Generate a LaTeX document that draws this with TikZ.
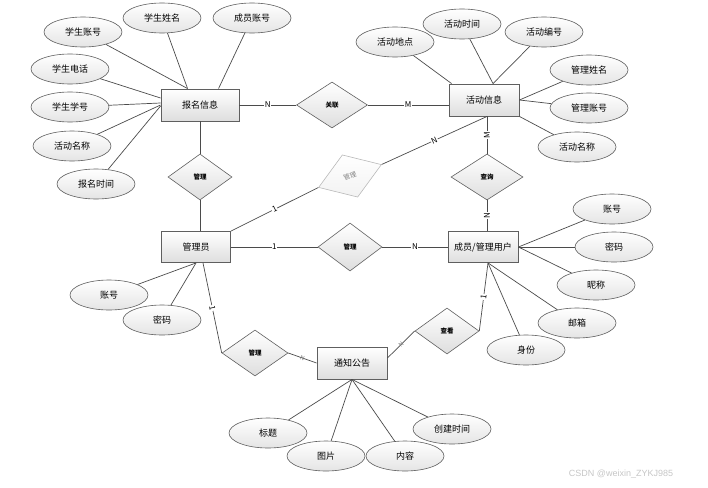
\documentclass[tikz,border=0pt]{standalone}
\usepackage{fontspec}
\newfontfamily\cjk{Noto Sans CJK SC}
\newfontfamily\wmfont{Liberation Sans}
\usetikzlibrary{shapes.geometric,calc}
\definecolor{linegray}{RGB}{75,75,75}
\definecolor{boxgray}{RGB}{95,95,95}
\definecolor{fillgray}{RGB}{222,222,222}
\tikzset{
    semithick,
    every edge/.style={draw=linegray, line width=0.7pt},
    entity/.style ={rectangle, draw=boxgray, line width=0.9pt, top color=white, bottom color=fillgray,
        minimum width=70pt, minimum height=32pt, inner sep=0pt, font=\cjk\fontsize{9}{10}\selectfont},
    attr/.style ={ellipse, draw=boxgray, line width=0.6pt, top color=white, bottom color=fillgray!80,
        minimum width=78pt, minimum height=30pt, inner sep=0pt, font=\cjk\fontsize{9}{10}\selectfont},
    rel/.style ={diamond, draw=boxgray, line width=0.6pt, top color=white, bottom color=fillgray,
        minimum width=64pt, minimum height=46pt, inner sep=0pt, font=\cjk\bfseries\fontsize{6.5}{7}\selectfont},
    el/.style = {fill=white, inner sep=0.6pt, font=\cjk\fontsize{8}{8}\selectfont},
    tiny/.style = {inner sep=0.5pt, text=gray, font=\cjk\fontsize{6}{6}\selectfont}
}
\begin{document}
\begin{tikzpicture}[x=1pt, y=-1pt]
    \useasboundingbox (0,0) rectangle (708,487);

    % entities
    \node[entity, minimum width=78pt] (bm) at (200,105) {报名信息};
    \node[entity] (hd) at (484,100) {活动信息};
    \node[entity, minimum width=69pt, minimum height=31pt] (gly) at (196,247) {管理员};
    \node[entity, minimum height=31pt] (cy) at (483,247) {成员/管理用户};
    \node[entity] (tz) at (352,363) {通知公告};

    % relations
    \node[rel, minimum width=71pt] (gl) at (332,105) {关联};
    \node[rel] (gl1) at (200,177) {管理};
    \node[rel, minimum width=72pt] (cx) at (487,177) {查询};
    \node[rel, minimum height=48pt] (gl2) at (350,247) {管理};
    \node[rel, minimum width=66pt] (gl3) at (255,353) {管理};
    \node[rel] (ck) at (447,331) {查看};
    \node[rel, rotate=20, draw=gray!55, top color=white, bottom color=gray!10, text=gray,
        font=\cjk\fontsize{6.5}{7}\selectfont, minimum width=67pt, minimum height=45pt] (gd) at (350,176) {管理};

    % attributes
    \node[attr] (a1) at (83,32) {学生账号};
    \node[attr] (a2) at (162,18) {学生姓名};
    \node[attr] (a3) at (252,18) {成员账号};
    \node[attr] (a4) at (70,69) {学生电话};
    \node[attr] (a5) at (70,107) {学生学号};
    \node[attr] (a6) at (72,146) {活动名称};
    \node[attr] (a7) at (96,184) {报名时间};

    \node[attr] (b1) at (395,42) {活动地点};
    \node[attr] (b2) at (462,24) {活动时间};
    \node[attr] (b3) at (544,32) {活动编号};
    \node[attr] (b4) at (589,70) {管理姓名};
    \node[attr] (b5) at (589,108) {管理账号};
    \node[attr] (b6) at (577,147) {活动名称};

    \node[attr] (c1) at (109,295) {账号};
    \node[attr] (c2) at (162,320) {密码};

    \node[attr] (d1) at (612,209) {账号};
    \node[attr] (d2) at (614,247) {密码};
    \node[attr] (d3) at (596,285) {昵称};
    \node[attr] (d4) at (577,323) {邮箱};
    \node[attr] (d5) at (526,350) {身份};

    \node[attr] (e1) at (268,433) {标题};
    \node[attr] (e2) at (326,456) {图片};
    \node[attr] (e3) at (405,456) {内容};
    \node[attr] (e4) at (452,429) {创建时间};

    % relation lines
    \path (bm) edge node[el] {N} (gl);
    \path (gl) edge node[el] {M} (gl -| hd.west);
    \path (bm) edge (gl1);
    \path (gl1) edge (gl1.south |- gly.north);
    \path ([xshift=3pt]hd.south) edge node[el, sloped] {N} (gd.east);
    \path (gd.west) edge node[el, sloped] {1} (gly.north east);
    \path (cx.north |- hd.south) edge node[el, rotate=90] {M} (cx);
    \path (cx) edge node[el, rotate=90] {N} (cx.south |- cy.north);
    \path (gly) edge node[el] {1} (gl2);
    \path (gl2) edge node[el] {N} (cy);
    \path ([xshift=7pt]gly.south) edge node[el, sloped] {1} (gl3.west);
    \path (gl3.east) edge node[tiny, sloped] {N} (tz.west);
    \path ([xshift=5pt]cy.south) edge node[el, sloped] {1} (ck.east);
    \path (ck.west) edge node[tiny, sloped] {N} ([yshift=5pt]tz.east);

    % attribute lines
    \path (a1) edge ([xshift=27pt]bm.north west);
    \path (a2) edge ([xshift=27pt]bm.north west);
    \path (a3) edge ([xshift=58pt]bm.north west);
    \path (a4) edge ([yshift=7pt]bm.west);
    \path (a5) edge ([yshift=2pt]bm.west);
    \path (a6) edge (bm.west);
    \path (a7) edge ([yshift=-1pt]bm.west);

    \path (b1) edge ([xshift=3pt]hd.north west);
    \path (b2) edge ([xshift=9pt]hd.north);
    \path (b3) edge ([xshift=9pt]hd.north);
    \path (b4) edge (hd.east);
    \path (b5) edge (hd.east);
    \path (b6) edge (hd.south east);

    \path (c1) edge (gly.south);
    \path (c2) edge (gly.south);

    \path (d1) edge (cy.east);
    \path (d2) edge (cy.east);
    \path (d3) edge (cy.east);
    \path (d4) edge ([xshift=5pt]cy.south);
    \path (d5) edge ([xshift=5pt]cy.south);

    \path (e1) edge (tz.south);
    \path (e2) edge (tz.south);
    \path (e3) edge (tz.south);
    \path (e4) edge (tz.south);

    \node[text=gray!45, font=\wmfont\fontsize{9}{10}\selectfont] (wm) at (621,474) {CSDN @weixin\_ZYKJ985};
\end{tikzpicture}
\end{document}
